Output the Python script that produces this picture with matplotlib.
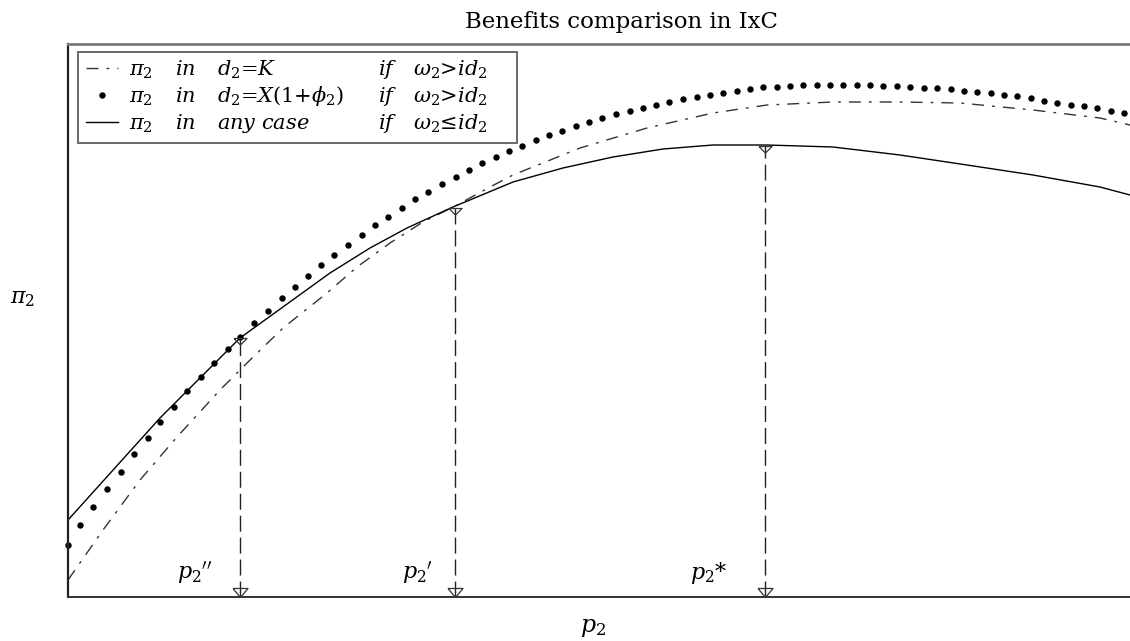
import numpy as np
import matplotlib
matplotlib.use("Agg")
import matplotlib.pyplot as plt

plt.rcParams['font.family'] = 'DejaVu Serif'
plt.rcParams['mathtext.fontset'] = 'dejavuserif'
plt.rcParams['lines.scale_dashes'] = False

# curves (p2 on x, pi2 on y, arbitrary units)
solid_p2 = [0.00, 0.92, 1.72, 2.62, 3.02, 3.39, 3.85, 4.45, 4.95, 5.45, 5.95,
            6.45, 6.99, 7.65, 8.32, 8.99, 9.65, 10.32, 10.62]
solid_pi2 = [0.77, 1.79, 2.59, 3.24, 3.49, 3.69, 3.90, 4.15, 4.29, 4.40, 4.48,
             4.52, 4.52, 4.50, 4.42, 4.32, 4.22, 4.10, 4.02]

dashdot_p2 = [0.00, 0.35, 0.72, 1.09, 1.52, 1.79, 2.15, 2.59, 2.89, 3.22, 3.55,
              3.89, 4.22, 4.45, 5.12, 5.79, 6.45, 6.99, 7.65, 8.32, 8.92, 9.65,
              10.32, 10.62]
dashdot_pi2 = [0.17, 0.67, 1.17, 1.60, 2.07, 2.34, 2.69, 3.04, 3.30, 3.54, 3.75,
               3.92, 4.10, 4.22, 4.49, 4.69, 4.84, 4.92, 4.95, 4.95, 4.94, 4.87,
               4.79, 4.72]

dot_p2 = [0.00, 0.12, 0.25, 0.39, 0.53, 0.66, 0.80, 0.92, 1.06, 1.19, 1.33, 1.46,
          1.60, 1.72, 1.86, 2.00, 2.14, 2.27, 2.40, 2.53, 2.66, 2.80, 2.94, 3.07,
          3.20, 3.34, 3.47, 3.60, 3.74, 3.88, 4.01, 4.14, 4.28, 4.41, 4.54, 4.68,
          4.81, 4.94, 5.08, 5.21, 5.34, 5.48, 5.62, 5.75, 5.88, 6.01, 6.15, 6.29,
          6.42, 6.55, 6.69, 6.82, 6.95, 7.09, 7.22, 7.35, 7.49, 7.62, 7.75, 7.89,
          8.02, 8.15, 8.29, 8.42, 8.56, 8.69, 8.83, 8.96, 9.09, 9.23, 9.36, 9.49,
          9.63, 9.76, 9.89, 10.03, 10.16, 10.29, 10.43, 10.56]
dot_pi2 = [0.52, 0.72, 0.90, 1.08, 1.25, 1.43, 1.59, 1.75, 1.90, 2.06, 2.20, 2.34,
           2.48, 2.60, 2.74, 2.86, 2.99, 3.10, 3.21, 3.32, 3.42, 3.52, 3.62, 3.72,
           3.80, 3.89, 3.98, 4.05, 4.13, 4.20, 4.27, 4.34, 4.40, 4.46, 4.51, 4.57,
           4.62, 4.66, 4.71, 4.75, 4.79, 4.83, 4.86, 4.89, 4.92, 4.95, 4.98, 5.00,
           5.02, 5.04, 5.06, 5.08, 5.10, 5.10, 5.11, 5.12, 5.12, 5.12, 5.12, 5.12,
           5.12, 5.11, 5.11, 5.10, 5.09, 5.09, 5.08, 5.06, 5.05, 5.04, 5.02, 5.01,
           4.99, 4.96, 4.94, 4.92, 4.91, 4.89, 4.86, 4.84]

mark_p2 = [1.72, 3.87, 6.97]
mark_pi2 = [2.59, 3.89, 4.51]
mark_labels = [r"$p_2{}''$", r"$p_2{}'$", r"$p_2$*"]
label_x = [1.09, 3.34, 6.22]

legend_rows = [
    [r"$in$", r"$d_2$=$K$", r"$if$", r"$\omega_2$>$id_2$"],
    [r"$in$", r"$d_2$=$X(1$+$\phi_2)$", r"$if$", r"$\omega_2$>$id_2$"],
    [r"$in$", r"$any\ case$", r"$if$", r"$\omega_2$≤$id_2$"],
]
legend_cols_px = [175, 217, 378, 413]

W, H = 1130, 641
fig = plt.figure(figsize=(W / 100, H / 100), dpi=100)
ax = fig.add_axes([68 / W, 44 / H, (W - 68) / W, (597 - 44) / H])
ax.set_xlim(0, 10.62)
ax.set_ylim(0, 5.53)
ax.set_xticks([])
ax.set_yticks([])
ax.spines['right'].set_visible(False)
ax.spines['top'].set_color('#7a7a7a')
ax.spines['top'].set_linewidth(2.0)
ax.spines['left'].set_color('#222222')
ax.spines['left'].set_linewidth(1.6)
ax.spines['bottom'].set_color('#333333')
ax.spines['bottom'].set_linewidth(1.4)

h_dd, = ax.plot(dashdot_p2, dashdot_pi2, color='#333333', lw=1.0,
                linestyle=(0, (8.6, 5.8, 2.0, 5.8)))
h_dot, = ax.plot(dot_p2, dot_pi2, linestyle='none', marker='o', ms=3.6,
                 color='black', clip_on=False)
h_solid, = ax.plot(solid_p2, solid_pi2, color='black', lw=1.0)

ax.vlines(mark_p2, 0, mark_pi2, colors='#222222', lw=1.0,
          linestyles=[(0, (11.5, 4.3))])
top_tri = [(-1, 0), (1, 0), (0, -1), (-1, 0)]
bot_tri = [(-1, 1.2), (1, 1.2), (0, 0), (-1, 1.2)]
ax.plot(mark_p2, mark_pi2, linestyle='none', marker=top_tri, ms=9.4,
        mfc='none', mec='#333333', mew=0.9)
ax.plot(mark_p2, [0] * len(mark_p2), linestyle='none', marker=bot_tri, ms=13,
        mfc='none', mec='#333333', mew=0.9, clip_on=False)
for x, s in zip(label_x, mark_labels):
    ax.text(x, 0.18, s, fontsize=16, ha='left', va='baseline')

leg = ax.legend([h_dd, h_dot, h_solid], [r"$\pi_2$"] * 3, loc='upper left',
                bbox_to_anchor=(10 / 1062, 0.5, 439 / 1062, 0.4855 + 0.0),
                mode='expand', borderaxespad=0, fontsize=15, numpoints=1,
                handlelength=1.5, handletextpad=0.55, borderpad=0.4,
                labelspacing=0.32, fancybox=False, framealpha=1,
                edgecolor='#6a6a6a')
leg.get_frame().set_linewidth(1.4)

fig.canvas.draw()
inv = fig.transFigure.inverted()
for t, row in zip(leg.get_texts(), legend_rows):
    bx, by = t.get_transform().transform(t.get_position())
    for px, s in zip(legend_cols_px, row):
        fx, fy = inv.transform((px, by))
        fig.text(fx, fy, s, fontsize=15, ha='left', va='baseline')

fig.text(621 / W, (H - 28) / H, 'Benefits comparison in IxC', fontsize=16.5,
         ha='center', va='baseline')
fig.text(10 / W, (H - 303) / H, r'$\pi_2$', fontsize=16, ha='left', va='baseline')
fig.text(580 / W, (H - 632) / H, r'$p_2$', fontsize=17, ha='left', va='baseline')

fig.savefig('out.png', dpi=100)
